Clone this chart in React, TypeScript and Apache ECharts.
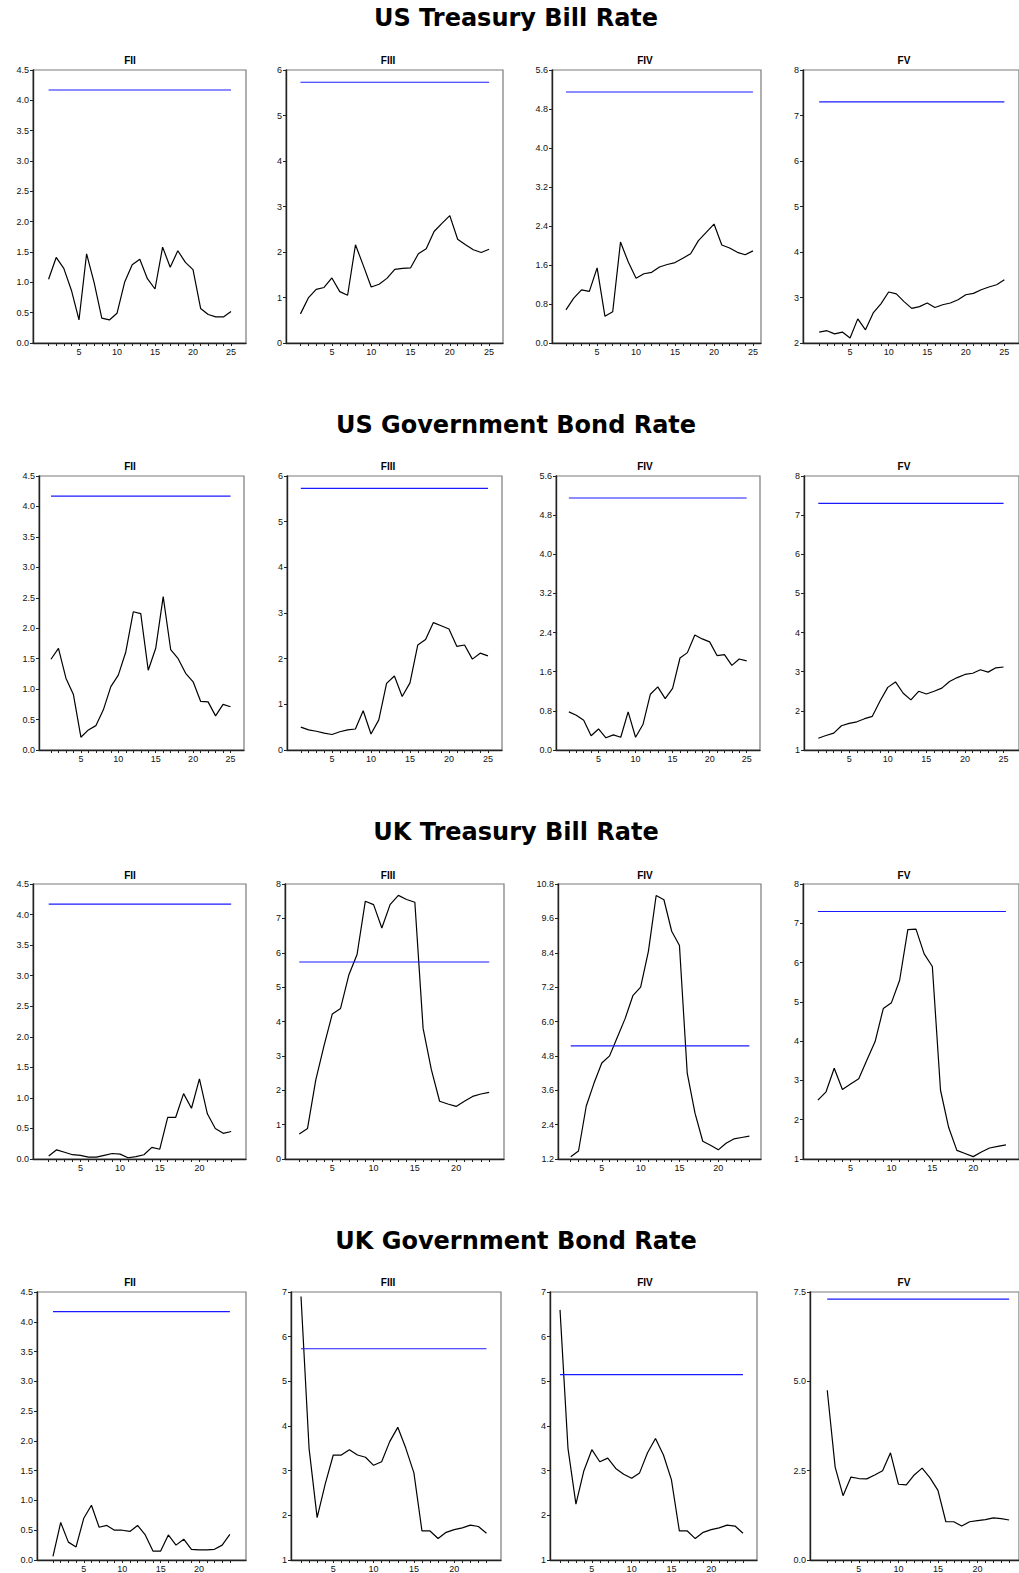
import React, { useEffect, useRef } from "react";
import * as echarts from "echarts";

const rowTitles = ["US Treasury Bill Rate", "US Government Bond Rate", "UK Treasury Bill Rate", "UK Government Bond Rate"];
const panelTitles = ["FII", "FIII", "FIV", "FV"];
const critical = [4.17, 5.73, 5.15, 7.3];

const usTbFII = [1.05, 1.41, 1.23, 0.87, 0.38, 1.47, 0.99, 0.41, 0.38, 0.49, 1.0, 1.29, 1.38, 1.06, 0.89, 1.58, 1.25, 1.52, 1.33, 1.21, 0.57, 0.47, 0.43, 0.43, 0.52];
const usTbFIII = [0.64, 0.99, 1.18, 1.22, 1.43, 1.13, 1.05, 2.16, 1.7, 1.23, 1.29, 1.42, 1.62, 1.64, 1.65, 1.96, 2.07, 2.45, 2.63, 2.8, 2.28, 2.16, 2.05, 1.99, 2.06];
const usTbFIV = [0.68, 0.92, 1.09, 1.06, 1.54, 0.55, 0.64, 2.07, 1.66, 1.33, 1.42, 1.45, 1.56, 1.61, 1.65, 1.74, 1.83, 2.1, 2.27, 2.44, 2.01, 1.95, 1.86, 1.81, 1.89];
const usTbFV = [2.24, 2.27, 2.2, 2.24, 2.11, 2.53, 2.29, 2.66, 2.86, 3.12, 3.08, 2.91, 2.76, 2.8, 2.88, 2.78, 2.84, 2.88, 2.95, 3.06, 3.09, 3.17, 3.23, 3.28, 3.39];

const usGbFII = [1.49, 1.67, 1.18, 0.91, 0.21, 0.33, 0.4, 0.66, 1.04, 1.23, 1.61, 2.27, 2.24, 1.31, 1.67, 2.52, 1.65, 1.5, 1.26, 1.12, 0.8, 0.79, 0.56, 0.75, 0.71];
const usGbFIII = [0.5, 0.44, 0.41, 0.37, 0.34, 0.4, 0.44, 0.46, 0.86, 0.35, 0.66, 1.46, 1.62, 1.17, 1.47, 2.3, 2.42, 2.79, 2.72, 2.65, 2.27, 2.3, 1.99, 2.12, 2.06];
const usGbFIV = [0.78, 0.71, 0.61, 0.29, 0.43, 0.25, 0.31, 0.26, 0.78, 0.26, 0.52, 1.14, 1.29, 1.05, 1.26, 1.88, 1.99, 2.35, 2.27, 2.21, 1.93, 1.95, 1.73, 1.86, 1.82];
const usGbFV = [1.3, 1.37, 1.43, 1.62, 1.68, 1.72, 1.8, 1.86, 2.25, 2.6, 2.74, 2.45, 2.28, 2.5, 2.43, 2.5, 2.58, 2.75, 2.85, 2.93, 2.96, 3.05, 2.99, 3.1, 3.12];

const ukTbFII = [0.05, 0.15, 0.11, 0.07, 0.06, 0.03, 0.03, 0.06, 0.09, 0.08, 0.02, 0.04, 0.07, 0.19, 0.16, 0.68, 0.68, 1.07, 0.83, 1.31, 0.74, 0.5, 0.42, 0.45];
const ukTbFIII = [0.73, 0.89, 2.3, 3.3, 4.22, 4.38, 5.35, 5.95, 7.5, 7.4, 6.72, 7.4, 7.67, 7.55, 7.47, 3.8, 2.6, 1.68, 1.6, 1.53, 1.68, 1.82, 1.89, 1.94];
const ukTbFIV = [1.28, 1.48, 3.05, 3.85, 4.55, 4.8, 5.45, 6.1, 6.9, 7.2, 8.45, 10.4, 10.25, 9.15, 8.65, 4.2, 2.8, 1.82, 1.68, 1.52, 1.75, 1.9, 1.95, 2.0];
const ukTbFV = [2.5, 2.71, 3.31, 2.77, 2.91, 3.04, 3.52, 3.99, 4.83, 4.98, 5.55, 6.84, 6.85, 6.22, 5.9, 2.75, 1.8, 1.22, 1.14, 1.06, 1.18, 1.28, 1.32, 1.36];

const ukGbFII = [0.06, 0.63, 0.3, 0.22, 0.7, 0.92, 0.55, 0.58, 0.5, 0.5, 0.48, 0.58, 0.42, 0.15, 0.15, 0.42, 0.25, 0.35, 0.18, 0.17, 0.17, 0.18, 0.25, 0.43];
const ukGbFIII = [6.9, 3.5, 1.95, 2.7, 3.35, 3.35, 3.47, 3.35, 3.3, 3.12, 3.2, 3.65, 3.97, 3.5, 2.95, 1.65, 1.65, 1.48, 1.62, 1.68, 1.72, 1.78, 1.75, 1.6];
const ukGbFIV = [6.6, 3.5, 2.25, 3.0, 3.47, 3.2, 3.28, 3.05, 2.92, 2.83, 2.95, 3.4, 3.72, 3.35, 2.8, 1.65, 1.65, 1.48, 1.62, 1.68, 1.72, 1.78, 1.76, 1.6];
const ukGbFV = [4.75, 2.6, 1.8, 2.32, 2.28, 2.27, 2.38, 2.5, 3.0, 2.12, 2.1, 2.38, 2.57, 2.3, 1.95, 1.07, 1.07, 0.95, 1.07, 1.1, 1.13, 1.18, 1.16, 1.12];

const seriesRows = [
  [usTbFII, usTbFIII, usTbFIV, usTbFV],
  [usGbFII, usGbFIII, usGbFIV, usGbFV],
  [ukTbFII, ukTbFIII, ukTbFIV, ukTbFV],
  [ukGbFII, ukGbFIII, ukGbFIV, ukGbFV],
];

// y axis ticks: [min, max, interval, decimals]
const yTicks = [
  [[0, 4.5, 0.5, 1], [0, 6, 1, 0], [0, 5.6, 0.8, 1], [2, 8, 1, 0]],
  [[0, 4.5, 0.5, 1], [0, 6, 1, 0], [0, 5.6, 0.8, 1], [1, 8, 1, 0]],
  [[0, 4.5, 0.5, 1], [0, 8, 1, 0], [1.2, 10.8, 1.2, 1], [1, 8, 1, 0]],
  [[0, 4.5, 0.5, 1], [1, 7, 1, 0], [1, 7, 1, 0], [0, 7.5, 2.5, 1]],
];
const xTickLabels = [5, 10, 15, 20, 25];

// layout: box left, box right, x min, x max
const boxes = [
  [[33, 246, -1.05, 26.97], [286, 503, -0.84, 26.77], [552, 761, -0.79, 26.03], [803, 1020, -1.1, 26.9]],
  [[39, 244, -0.6, 26.8], [287, 502, -0.77, 26.8], [556, 760, -0.74, 26.8], [804, 1020, -0.85, 27.0]],
  [[33, 246, -0.98, 25.87], [285, 504, -0.73, 25.8], [558, 761, -0.64, 25.5], [803, 1020, -0.82, 25.6]],
  [[37, 246, -1.08, 26.1], [291, 501, -0.24, 25.8], [550, 757, -0.26, 25.76], [810, 1022, -1.18, 25.25]],
];
const boxTop = [70, 476, 884, 1292];
const boxBottom = [343, 750, 1159, 1566];
const rowTitleY = [18, 425, 832, 1241];
const panelTitleY = [60, 466, 875, 1282];
const panelTitleX = [130, 388, 645, 904];

export default function App() {
  const ref = useRef<HTMLDivElement>(null);
  useEffect(() => {
    if (!ref.current) return;
    const chart = echarts.init(ref.current, undefined, { renderer: "svg" });
    const grid: any[] = [];
    const xAxis: any[] = [];
    const yAxis: any[] = [];
    const series: any[] = [];
    const graphic: any[] = [];
    const font = "Liberation Sans";
    for (let r = 0; r < 4; r++) {
      graphic.push({
        type: "text",
        x: 516,
        y: rowTitleY[r],
        style: {
          text: rowTitles[r],
          font: "bold 24px 'DejaVu Sans'",
          fill: "#000",
          textAlign: "center",
          textVerticalAlign: "middle",
        },
      });
      for (let c = 0; c < 4; c++) {
        const idx = r * 4 + c;
        const [bl, br, xmin, xmax] = boxes[r][c];
        const [ymin, ymax, yint, dec] = yTicks[r][c];
        const data = seriesRows[r][c];
        const n = data.length;
        grid.push({
          left: bl,
          top: boxTop[r],
          width: br - bl,
          height: boxBottom[r] - boxTop[r],
          show: true,
          borderColor: "#7a7a7a",
          borderWidth: 1.2,
          backgroundColor: "transparent",
        });
        const ticks: number[] = [];
        for (let i = 1; i <= n; i++) ticks.push(i);
        xAxis.push({
          type: "value",
          gridIndex: idx,
          min: xmin,
          max: xmax,
          axisLine: { show: true, onZero: false, lineStyle: { color: "#222", width: 1.4 } },
          axisTick: { show: true, length: 3, customValues: ticks, lineStyle: { color: "#222", width: 1 } },
          axisLabel: {
            show: true,
            customValues: xTickLabels.filter((v) => v <= n),
            fontSize: 9,
            fontFamily: font,
            color: "#111",
            margin: 4,
          },
          splitLine: { show: false },
        });
        yAxis.push({
          type: "value",
          gridIndex: idx,
          min: ymin,
          max: ymax,
          interval: yint,
          axisLine: { show: true, onZero: false, lineStyle: { color: "#222", width: 1.4 } },
          axisTick: { show: true, length: 3, lineStyle: { color: "#222", width: 1 } },
          axisLabel: {
            show: true,
            fontSize: 9,
            fontFamily: font,
            color: "#111",
            margin: 4,
            formatter: (v: number) => v.toFixed(dec),
          },
          splitLine: { show: false },
        });
        series.push({
          type: "line",
          xAxisIndex: idx,
          yAxisIndex: idx,
          data: data.map((v, i) => [i + 1, v]),
          symbol: "none",
          lineStyle: { color: "#000", width: 1.2 },
          silent: true,
        });
        series.push({
          type: "line",
          xAxisIndex: idx,
          yAxisIndex: idx,
          data: [
            [1, critical[c]],
            [n, critical[c]],
          ],
          symbol: "none",
          lineStyle: { color: "#1a1aff", width: 1.1 },
          silent: true,
        });
        graphic.push({
          type: "text",
          x: panelTitleX[c],
          y: panelTitleY[r],
          style: {
            text: panelTitles[c],
            font: `bold 10px '${font}'`,
            fill: "#000",
            textAlign: "center",
            textVerticalAlign: "middle",
          },
        });
      }
    }
    chart.setOption({
      animation: false,
      backgroundColor: "#fff",
      grid,
      xAxis,
      yAxis,
      series,
      graphic,
    });
    return () => chart.dispose();
  }, []);
  return (
    <div
      ref={ref}
      style={{ position: "absolute", left: 0, top: 0, width: 1019, height: 1573 }}
    />
  );
}
